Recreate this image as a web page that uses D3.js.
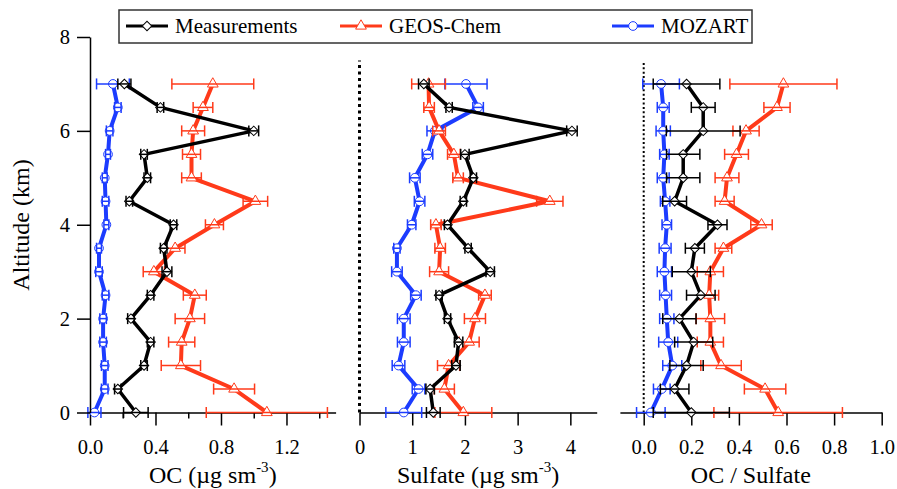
<!DOCTYPE html>
<html>
<head>
<meta charset="utf-8">
<script src="https://cdn.jsdelivr.net/npm/d3@7"></script>
<style>
  body { margin: 0; background: #fff; }
  svg text { font-family: "Liberation Serif", "Times New Roman", Times, serif !important; }
</style>
</head>
<body>
<div id="chart"></div>
<script>
const altitudes = [0, 0.5, 1, 1.5, 2, 2.5, 3, 3.5, 4, 4.5, 5, 5.5, 6, 6.5, 7];

const ocMeas     = [0.28, 0.17, 0.33, 0.37, 0.25, 0.37, 0.47, 0.45, 0.51, 0.24, 0.35, 0.33, 1.00, 0.43, 0.21];
const ocMeasErr  = [0.075, 0.02, 0.02, 0.02, 0.02, 0.02, 0.03, 0.02, 0.02, 0.02, 0.02, 0.02, 0.03, 0.02, 0.04];
const ocGeos     = [1.08, 0.88, 0.555, 0.56, 0.61, 0.64, 0.39, 0.52, 0.76, 1.01, 0.62, 0.62, 0.63, 0.69, 0.75];
const ocGeosErr  = [0.37, 0.125, 0.12, 0.08, 0.09, 0.07, 0.065, 0.06, 0.055, 0.075, 0.06, 0.055, 0.07, 0.06, 0.25];
const ocMoz      = [0.027, 0.09, 0.09, 0.08, 0.08, 0.095, 0.055, 0.055, 0.10, 0.095, 0.09, 0.11, 0.12, 0.17, 0.14];
const ocMozErr   = [0.04, 0.02, 0.02, 0.02, 0.02, 0.02, 0.02, 0.015, 0.015, 0.02, 0.015, 0.015, 0.02, 0.02, 0.1];

const so4Meas    = [1.40, 1.34, 1.83, 1.88, 1.67, 1.51, 2.48, 2.06, 1.67, 1.97, 2.16, 2.00, 4.03, 1.70, 1.22];
const so4MeasErr = [0.13, 0.08, 0.08, 0.08, 0.06, 0.06, 0.08, 0.06, 0.06, 0.06, 0.06, 0.08, 0.10, 0.06, 0.10];
const so4Geos    = [1.97, 1.61, 1.69, 2.08, 2.19, 2.38, 1.51, 1.53, 1.45, 3.61, 1.87, 1.79, 1.51, 1.32, 1.31];
const so4GeosErr = [0.54, 0.19, 0.21, 0.19, 0.20, 0.12, 0.18, 0.10, 0.10, 0.25, 0.10, 0.12, 0.12, 0.10, 0.32];
const so4Moz     = [0.84, 1.12, 0.74, 0.84, 0.84, 1.07, 0.71, 0.71, 0.99, 1.14, 1.05, 1.29, 1.43, 2.25, 2.02];
const so4MozErr  = [0.34, 0.12, 0.12, 0.12, 0.12, 0.10, 0.10, 0.06, 0.08, 0.10, 0.10, 0.10, 0.15, 0.10, 0.40];

const ratioMeas     = [0.20, 0.13, 0.18, 0.21, 0.15, 0.24, 0.20, 0.215, 0.31, 0.13, 0.166, 0.166, 0.25, 0.25, 0.18];
const ratioMeasErr  = [0.16, 0.06, 0.07, 0.08, 0.07, 0.06, 0.08, 0.04, 0.04, 0.05, 0.07, 0.07, 0.155, 0.05, 0.14];
const ratioGeos     = [0.565, 0.51, 0.325, 0.28, 0.28, 0.275, 0.28, 0.335, 0.495, 0.34, 0.35, 0.39, 0.43, 0.56, 0.587];
const ratioGeosErr  = [0.27, 0.087, 0.085, 0.055, 0.06, 0.04, 0.055, 0.035, 0.045, 0.04, 0.05, 0.05, 0.055, 0.055, 0.225];
const ratioMoz      = [0.03, 0.076, 0.12, 0.103, 0.097, 0.092, 0.087, 0.09, 0.097, 0.09, 0.082, 0.087, 0.082, 0.082, 0.073];
const ratioMozErr   = [0.06, 0.035, 0.04, 0.04, 0.03, 0.025, 0.03, 0.025, 0.02, 0.02, 0.025, 0.02, 0.03, 0.025, 0.077];

const seriesNames = ["Measurements", "GEOS-Chem", "MOZART"];
const ocTicks = [0, 0.4, 0.8, 1.2];
const ocMinorTicks = [0.2, 0.6, 1.0, 1.4];
const so4Ticks = [0, 1, 2, 3, 4];
const ratioTicks = [0, 0.2, 0.4, 0.6, 0.8, 1.0];
const altTicks = [0, 2, 4, 6, 8];

const width = 897, height = 489;
const FONT = '"Liberation Serif", "Times New Roman", Times, serif';
const colors = { "Measurements": "#000000", "GEOS-Chem": "#ff3a1a", "MOZART": "#1c3cff" };
const lineW = { "Measurements": 3.5, "GEOS-Chem": 4, "MOZART": 4 };
const symbols = { "Measurements": d3.symbolSquare, "GEOS-Chem": d3.symbolTriangle, "MOZART": d3.symbolCircle };
const symSize = { "Measurements": 45, "GEOS-Chem": 50, "MOZART": 60 };

const svg = d3.select("#chart").append("svg")
  .attr("width", width)
  .attr("height", height)
  .attr("font-family", FONT);

const y = d3.scaleLinear().domain([0, 8]).range([412.5, 37]);

const panels = [
  { x: d3.scaleLinear().domain([0, 1.5]).range([90, 335.6]), ticks: ocTicks, minor: ocMinorTicks, fmt: d3.format(".1f"),
    label: "OC (µg sm", sup: true, vals: [ocMeas, ocGeos, ocMoz], errs: [ocMeasErr, ocGeosErr, ocMozErr], dotted: null },
  { x: d3.scaleLinear().domain([0, 4.5]).range([359.5, 596.7]), ticks: so4Ticks, minor: [], fmt: d3.format("d"),
    label: "Sulfate (µg sm", sup: true, vals: [so4Meas, so4Geos, so4Moz], errs: [so4MeasErr, so4GeosErr, so4MozErr],
    dotted: { w: 3, dash: "3,3.5" } },
  { x: d3.scaleLinear().domain([-0.1, 1.0]).range([619.9, 881.7]), ticks: ratioTicks, minor: [], fmt: d3.format(".1f"),
    label: "OC / Sulfate", sup: false, vals: [ratioMeas, ratioGeos, ratioMoz], errs: [ratioMeasErr, ratioGeosErr, ratioMozErr],
    dotted: { w: 2, dash: "2,2.4" } }
];

function symbolPath(name) {
  return d3.symbol().type(symbols[name]).size(symSize[name])();
}

panels.forEach(p => {
  const x = p.x;
  const g = svg.append("g");

  // x axis
  const ax = g.append("g")
    .attr("transform", `translate(0,${y(0)})`)
    .call(d3.axisBottom(x).tickValues(p.ticks).tickFormat(p.fmt).tickSize(13).tickPadding(14).tickSizeOuter(0));
  ax.attr("font-family", FONT);
  ax.select(".domain").attr("stroke-width", 1.5);
  ax.selectAll(".tick line").attr("stroke-width", 1.5);
  ax.selectAll(".tick text").style("font-size", "20.5px").attr("fill", "#000");
  if (p.minor.length) {
    g.append("g")
      .attr("transform", `translate(0,${y(0)})`)
      .call(d3.axisBottom(x).tickValues(p.minor).tickFormat("").tickSize(6).tickSizeOuter(0))
      .call(s => s.select(".domain").remove())
      .selectAll(".tick line").attr("stroke-width", 1.5);
  }

  // axis title
  const cx = (x.range()[0] + x.range()[1]) / 2;
  const t = g.append("text")
    .attr("x", cx)
    .attr("y", 483)
    .attr("text-anchor", "middle")
    .style("font-size", "24px")
    .text(p.label);
  if (p.sup) {
    t.append("tspan").attr("dy", -11).style("font-size", "15px").text("-3");
    t.append("tspan").attr("dy", 11).style("font-size", "24px").text(")");
  }

  // dotted zero line
  if (p.dotted) {
    g.append("line")
      .attr("x1", x(0)).attr("x2", x(0))
      .attr("y1", y(0)).attr("y2", y(7.5))
      .attr("stroke", "#000")
      .attr("stroke-width", p.dotted.w)
      .attr("stroke-dasharray", p.dotted.dash);
  }

  // draw series: MOZART, GEOS-Chem, then measurements on top
  [2, 1, 0].forEach(si => {
    const name = seriesNames[si];
    const data = altitudes.map((a, i) => ({ alt: a, v: p.vals[si][i], e: p.errs[si][i] }));
    const col = colors[name];
    const sg = g.append("g");

    sg.append("path")
      .datum(data)
      .attr("fill", "none")
      .attr("stroke", col)
      .attr("stroke-width", lineW[name])
      .attr("stroke-linejoin", "round")
      .attr("d", d3.line().x(d => x(d.v)).y(d => y(d.alt)));

    sg.selectAll(".pt")
      .data(data)
      .enter()
      .append("path")
      .attr("class", "pt")
      .attr("transform", d => `translate(${x(d.v)},${y(d.alt)})` + (name === "Measurements" ? " rotate(45)" : ""))
      .attr("d", symbolPath(name))
      .attr("fill", "#fff")
      .attr("stroke", col)
      .attr("stroke-width", 1);

    const eb = sg.selectAll(".eb")
      .data(data)
      .enter()
      .append("g")
      .attr("class", "eb")
      .attr("stroke", col)
      .attr("stroke-width", 1.5);
    eb.append("line")
      .attr("x1", d => x(d.v - d.e)).attr("x2", d => x(d.v + d.e))
      .attr("y1", d => y(d.alt)).attr("y2", d => y(d.alt));
    eb.append("line")
      .attr("x1", d => x(d.v - d.e)).attr("x2", d => x(d.v - d.e))
      .attr("y1", d => y(d.alt) - 5.5).attr("y2", d => y(d.alt) + 5.5);
    eb.append("line")
      .attr("x1", d => x(d.v + d.e)).attr("x2", d => x(d.v + d.e))
      .attr("y1", d => y(d.alt) - 5.5).attr("y2", d => y(d.alt) + 5.5);
  });
});

// y axis on first panel
const yAx = svg.append("g")
  .attr("transform", `translate(90,0)`)
  .call(d3.axisLeft(y).tickValues(altTicks).tickFormat(d3.format("d")).tickSize(13).tickPadding(7).tickSizeOuter(0));
yAx.attr("font-family", FONT);
yAx.select(".domain").attr("stroke-width", 1.5);
yAx.selectAll(".tick line").attr("stroke-width", 1.5);
yAx.selectAll(".tick text").style("font-size", "20.5px").attr("fill", "#000");

svg.append("text")
  .attr("transform", `translate(29,225) rotate(-90)`)
  .attr("text-anchor", "middle")
  .style("font-size", "24px")
  .text("Altitude (km)");

// legend
const legend = svg.append("g");
legend.append("rect")
  .attr("x", 119).attr("y", 10)
  .attr("width", 633).attr("height", 33)
  .attr("fill", "#fff")
  .attr("stroke", "#333")
  .attr("stroke-width", 1.5);

const legendX = [126, 340, 612];
seriesNames.forEach((name, i) => {
  const lx = legendX[i];
  const col = colors[name];
  legend.append("line")
    .attr("x1", lx).attr("x2", lx + 42)
    .attr("y1", 26).attr("y2", 26)
    .attr("stroke", col)
    .attr("stroke-width", 3);
  legend.append("path")
    .attr("transform", `translate(${lx + 21},26)` + (name === "Measurements" ? " rotate(45)" : ""))
    .attr("d", symbolPath(name))
    .attr("fill", "#fff")
    .attr("stroke", col)
    .attr("stroke-width", 1);
  legend.append("text")
    .attr("x", lx + 49)
    .attr("y", 33)
    .style("font-size", "21px")
    .text(name);
});
</script>
</body>
</html>
